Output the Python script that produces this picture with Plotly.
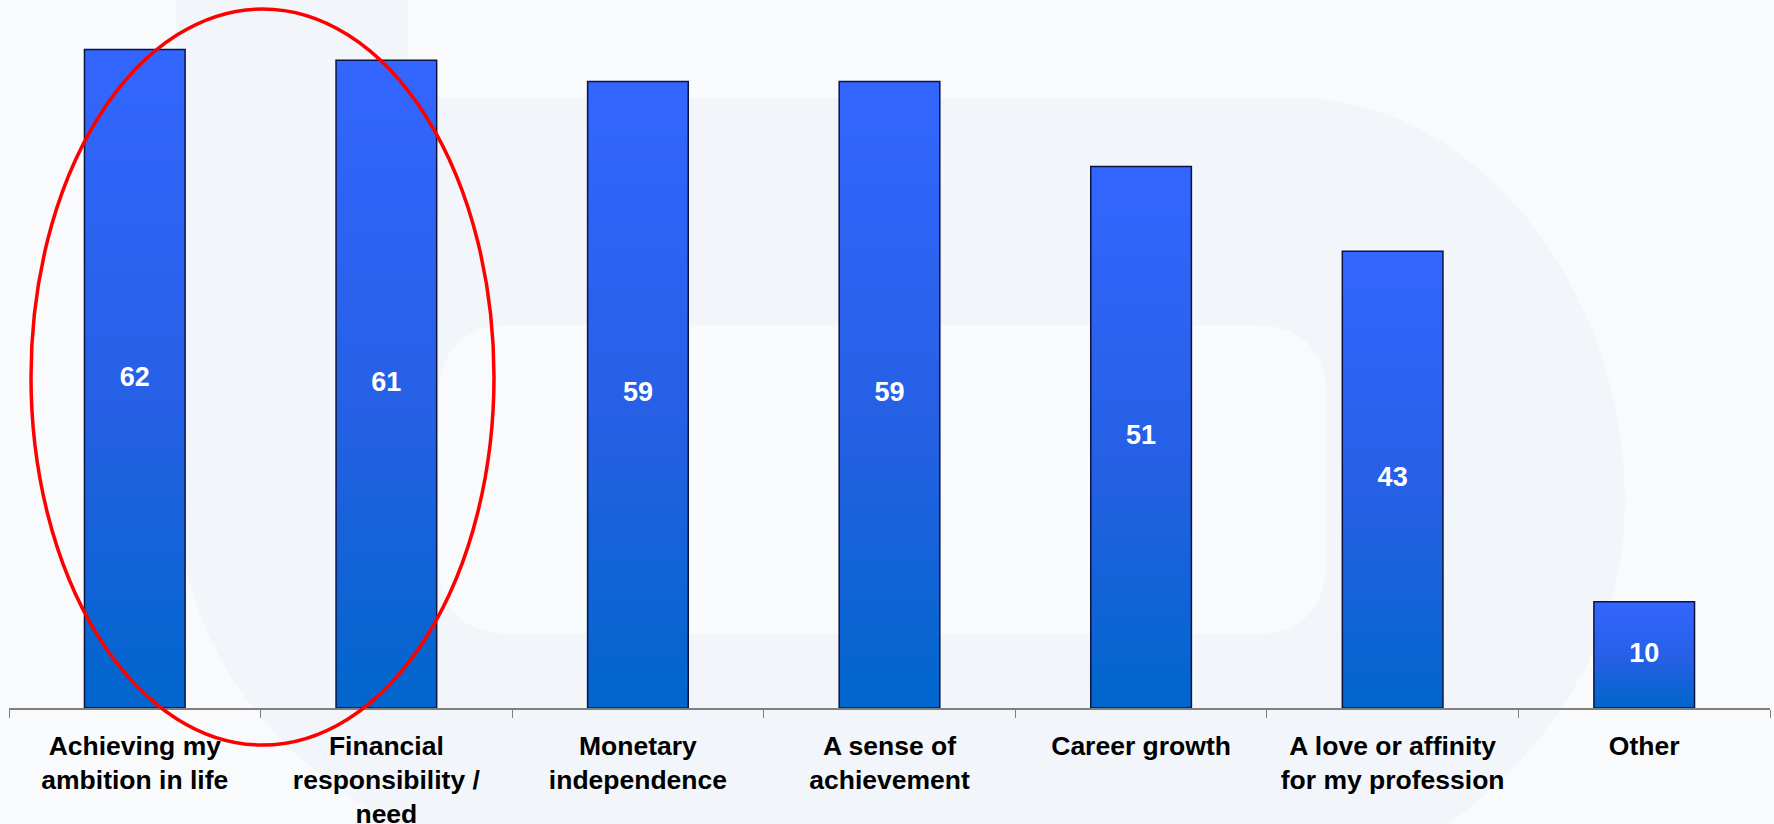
import plotly.graph_objects as go

# Survey answers and percentages
categories = [
    "Achieving my<br>ambition in life",
    "Financial<br>responsibility /<br>need",
    "Monetary<br>independence",
    "A sense of<br>achievement",
    "Career growth",
    "A love or affinity<br>for my profession",
    "Other",
]
values = [62, 61, 59, 59, 51, 43, 10]

W, H = 1774, 824
ML, MR, MT, MB = 9, 4, 0, 116
PLOT_W = W - ML - MR
PLOT_H = H - MT - MB
Y_MAX = 66.67
BAR_W = 0.40

PAPER = "#F9FAFC"
MARK = "#F2F5FA"
BAR_COLORS = [[0.0, "#0066CC"], [0.45, "#2560E4"], [1.0, "#3366FF"]]
FONT = "Liberation Sans, Arial, Helvetica, sans-serif"


def px(x, y):
    """Pixel position on the page -> paper coordinates of the plot area."""
    return (x - ML) / PLOT_W, (MT + PLOT_H - y) / PLOT_H


def path(cmds):
    out = []
    for c in cmds:
        op, pts = c[0], c[1:]
        if op == "L":
            for (x, y) in pts:
                a, b = px(x, y)
                out.append(f"L{a:.5f},{b:.5f}")
        else:
            coords = []
            for (x, y) in pts:
                a, b = px(x, y)
                coords.append(f"{a:.5f},{b:.5f}")
            out.append(op + " ".join(coords))
    return " ".join(out) + " Z"


fig = go.Figure()

# Bars: closed outlines filled with a vertical gradient
for i, v in enumerate(values):
    x0, x1 = i - BAR_W / 2, i + BAR_W / 2
    fig.add_trace(go.Scatter(
        x=[x0, x0, x1, x1, x0],
        y=[0, v, v, 0, 0],
        mode="lines",
        fill="toself",
        fillgradient=dict(type="vertical", colorscale=BAR_COLORS),
        line=dict(color="#0B1440", width=1.5),
        hoverinfo="skip",
        showlegend=False,
    ))

# Value labels centred in each bar
fig.add_trace(go.Scatter(
    x=list(range(len(values))),
    y=[v / 2 for v in values],
    mode="text",
    text=[str(v) for v in values],
    textposition="middle center",
    textfont=dict(family=FONT, size=27, color="white", weight="bold"),
    hoverinfo="skip",
    showlegend=False,
))

# Faint background logo
outer = path([
    ("M", (176, -20)),
    ("L", (408, -20), (408, 98), (1296, 98)),
    ("C", (1477, 98), (1625, 290), (1625, 500)),
    ("C", (1625, 650), (1540, 760), (1440, 830)),
    ("L", (1430, 880), (560, 880)),
    ("C", (350, 840), (176, 700), (176, 480)),
])
hole = path([
    ("M", (510, 325)),
    ("L", (1256, 325)),
    ("C", (1300, 325), (1326, 350), (1326, 395)),
    ("L", (1326, 564)),
    ("C", (1326, 610), (1300, 634), (1256, 634)),
    ("L", (510, 634)),
    ("C", (465, 634), (439, 610), (439, 564)),
    ("L", (439, 395)),
    ("C", (439, 350), (465, 325), (510, 325)),
])

ex0, ey0 = px(31, 745)
ex1, ey1 = px(494, 9)

fig.update_layout(
    width=W, height=H,
    margin=dict(l=ML, r=MR, t=MT, b=MB),
    paper_bgcolor=PAPER,
    plot_bgcolor="rgba(0,0,0,0)",
    font=dict(family=FONT, color="black"),
    showlegend=False,
    shapes=[
        dict(type="path", path=outer, xref="paper", yref="paper",
             fillcolor=MARK, line=dict(width=0), layer="below"),
        dict(type="path", path=hole, xref="paper", yref="paper",
             fillcolor=PAPER, line=dict(width=0), layer="below"),
        dict(type="circle", xref="paper", yref="paper",
             x0=ex0, x1=ex1, y0=ey0, y1=ey1,
             line=dict(color="#FF0000", width=3.5), layer="above"),
    ],
    xaxis=dict(
        range=[-0.5, len(values) - 0.5],
        tickmode="array",
        tickvals=list(range(len(values))),
        ticktext=categories,
        ticks="",
        showgrid=False,
        zeroline=False,
        showline=True,
        linecolor="#808080",
        linewidth=1.5,
        tickfont=dict(family=FONT, size=26.5, color="black", weight="bold"),
        ticklabelstandoff=13,
        automargin=False,
        minor=dict(
            tickmode="array",
            tickvals=[k - 0.5 for k in range(len(values) + 1)],
            ticks="outside",
            ticklen=8,
            tickwidth=1,
            tickcolor="#808080",
            showgrid=False,
        ),
        fixedrange=True,
    ),
    yaxis=dict(range=[0, Y_MAX], visible=False, fixedrange=True),
)

fig.write_html("out.html")
